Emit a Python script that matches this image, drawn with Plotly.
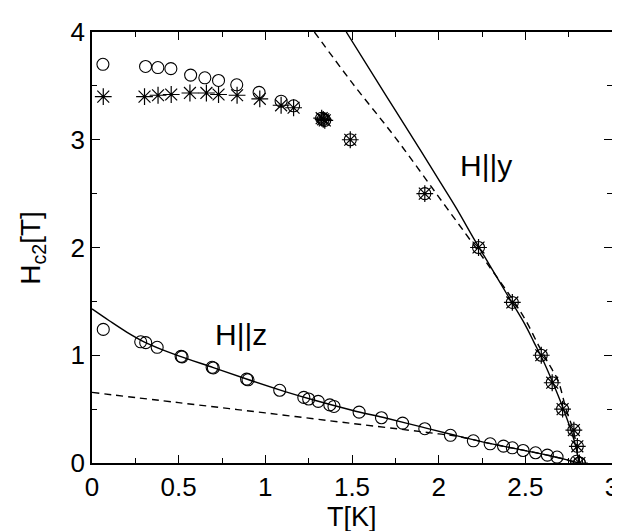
import plotly.graph_objects as go

# H || y data (circles and asterisks)
hy_circ_T = [0.063, 0.309, 0.38, 0.455, 0.569, 0.651, 0.73, 0.835, 0.964, 1.091, 1.163,
             1.325, 1.334, 1.343, 1.49, 1.92, 2.23, 2.425, 2.592, 2.655, 2.715, 2.78, 2.80, 2.812]
hy_circ_H = [3.70, 3.68, 3.67, 3.66, 3.60, 3.575, 3.55, 3.51, 3.44, 3.358, 3.315,
             3.20, 3.19, 3.18, 3.0, 2.50, 2.0, 1.49, 1.0, 0.745, 0.5, 0.306, 0.155, 0.0]

hy_star_T = [0.065, 0.303, 0.381, 0.457, 0.565, 0.66, 0.73, 0.837, 0.968, 1.091, 1.163,
             1.325, 1.334, 1.343, 1.49, 1.92, 2.23, 2.425, 2.592, 2.655, 2.715, 2.78, 2.80, 2.812]
hy_star_H = [3.40, 3.40, 3.413, 3.42, 3.434, 3.434, 3.42, 3.413, 3.38, 3.32, 3.297,
             3.20, 3.19, 3.18, 3.0, 2.50, 2.0, 1.49, 1.0, 0.745, 0.5, 0.306, 0.155, 0.0]

# H || z data (circles)
hz_T = [0.065, 0.281, 0.31, 0.376, 0.514, 0.52, 0.693, 0.70, 0.892, 0.90, 1.083, 1.222, 1.25,
        1.305, 1.372, 1.396, 1.541, 1.67, 1.792, 1.92, 2.068, 2.2, 2.297, 2.374, 2.425, 2.487,
        2.559, 2.627, 2.683, 2.795, 2.812]
hz_H = [1.24, 1.125, 1.117, 1.074, 0.99, 0.985, 0.888, 0.882, 0.778, 0.772, 0.675, 0.609, 0.594,
        0.572, 0.539, 0.525, 0.472, 0.42, 0.37, 0.318, 0.257, 0.206, 0.178, 0.157, 0.141, 0.116,
        0.095, 0.073, 0.055, 0.016, 0.0]

# fit curves
fit_y_solid_T = [1.467, 1.7, 1.9, 2.0, 2.1, 2.2, 2.3, 2.4, 2.5, 2.55, 2.6, 2.66, 2.72, 2.76, 2.79, 2.81]
fit_y_solid_H = [4.0, 3.40, 2.89, 2.63, 2.37, 2.09, 1.82, 1.55, 1.28, 1.12, 0.96, 0.74, 0.5, 0.32, 0.16, 0.0]

fit_y_dash_T = [1.283, 1.5, 1.75, 2.0, 2.2, 2.28, 2.4, 2.5, 2.58, 2.65, 2.69, 2.735, 2.78, 2.81]
fit_y_dash_H = [4.0, 3.53, 3.02, 2.47, 2.03, 1.85, 1.58, 1.33, 1.08, 0.88, 0.76, 0.5, 0.28, 0.0]

fit_z_solid_T = [0.0, 0.1, 0.2, 0.3, 0.4, 0.5, 0.7, 0.9, 1.1, 1.3, 1.5, 1.7, 1.9, 2.1, 2.3, 2.5,
                 2.65, 2.75, 2.81]
fit_z_solid_H = [1.43, 1.32, 1.215, 1.125, 1.055, 0.995, 0.885, 0.775, 0.67, 0.575, 0.49, 0.415,
                 0.335, 0.255, 0.18, 0.115, 0.065, 0.025, 0.0]

fit_z_dash_T = [0.0, 0.5, 1.0, 1.5, 1.8, 2.0, 2.1, 2.3, 2.5, 2.65, 2.75, 2.81]
fit_z_dash_H = [0.655, 0.56, 0.465, 0.367, 0.31, 0.27, 0.25, 0.18, 0.115, 0.065, 0.025, 0.0]

x_ticks = [0, 0.5, 1, 1.5, 2, 2.5, 3]
x_tick_labels = ["0", "0.5", "1", "1.5", "2", "2.5", "3"]
y_ticks = [0, 1, 2, 3, 4]
y_tick_labels = ["0", "1", "2", "3", "4"]
x_title = "T[K]"
y_title = "H<sub>c2</sub>[T]"

FONT = "Liberation Sans, Arial, Helvetica, sans-serif"
fig = go.Figure()

solid = dict(color="black", width=1.4)
dashed = dict(color="black", width=1.4, dash="7px,5px")
for xs, ys, st in [(fit_y_solid_T, fit_y_solid_H, solid), (fit_y_dash_T, fit_y_dash_H, dashed),
                   (fit_z_solid_T, fit_z_solid_H, solid), (fit_z_dash_T, fit_z_dash_H, dashed)]:
    fig.add_trace(go.Scatter(x=xs, y=ys, mode="lines", line=st, line_shape="spline",
                             showlegend=False, hoverinfo="skip"))

fig.add_trace(go.Scatter(x=hy_star_T, y=hy_star_H, mode="markers",
                         marker=dict(symbol="asterisk-open", size=14, color="black",
                                     line=dict(color="black", width=1.2)),
                         showlegend=False))
fig.add_trace(go.Scatter(x=hy_circ_T, y=hy_circ_H, mode="markers",
                         marker=dict(symbol="circle-open", size=12, color="black",
                                     line=dict(color="black", width=1.1)),
                         showlegend=False))
fig.add_trace(go.Scatter(x=hz_T, y=hz_H, mode="markers",
                         marker=dict(symbol="circle-open", size=12, color="black",
                                     line=dict(color="black", width=1.1)),
                         showlegend=False))

fig.add_annotation(x=2.11, y=2.76, xref="x", yref="y", text="H||y", showarrow=False,
                   xanchor="left", yanchor="middle", font=dict(size=30, color="black", family=FONT))
fig.add_annotation(x=0.70, y=1.19, xref="x", yref="y", text="H||z", showarrow=False,
                   xanchor="left", yanchor="middle", font=dict(size=30, color="black", family=FONT))

# axis titles as annotations placed in paper coordinates
fig.add_annotation(x=0.5, y=-0.163, xref="paper", yref="paper", text=x_title, showarrow=False,
                   xanchor="center", yanchor="bottom", borderpad=0,
                   font=dict(size=27, color="black", family=FONT))
fig.add_annotation(x=-0.115, y=0.5, xref="paper", yref="paper", text=y_title, showarrow=False,
                   textangle=-90, xanchor="center", yanchor="middle",
                   font=dict(size=28, color="black", family=FONT))

axis_common = dict(showline=True, linecolor="black", linewidth=1.8, mirror="allticks",
                   ticks="inside", ticklen=8, tickwidth=1.3, tickcolor="black",
                   showgrid=False, zeroline=False,
                   tickfont=dict(size=26, color="black", family=FONT))
fig.update_xaxes(range=[0, 3], tickvals=x_ticks, ticktext=x_tick_labels,
                 minor=dict(dtick=0.25, ticks="inside", ticklen=5, tickwidth=1.2, tickcolor="black"),
                 **axis_common)
fig.update_yaxes(range=[0, 4], tickvals=y_ticks, ticktext=y_tick_labels,
                 minor=dict(dtick=0.5, ticks="inside", ticklen=5, tickwidth=1.2, tickcolor="black"),
                 **axis_common)

fig.update_layout(width=620, height=531, margin=dict(l=84, r=9, t=19, b=76),
                  plot_bgcolor="white", paper_bgcolor="white",
                  font=dict(family=FONT, color="black"))

fig.write_html("out.html")
